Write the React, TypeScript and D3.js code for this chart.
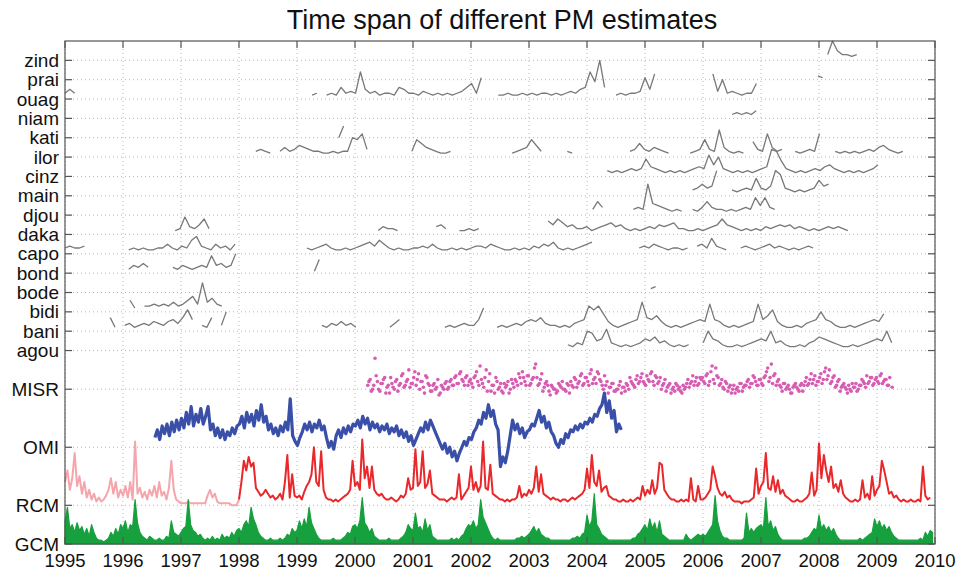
import * as d3 from 'd3'

// layout
const W = 956
const H = 573

// tick rows (y units) and their labels
const ROW_LABELS = ['GCM', 'RCM', 'OMI', 'MISR', 'agou', 'bani', 'bidi', 'bode', 'bond', 'capo', 'daka', 'djou', 'main', 'cinz', 'ilor', 'kati', 'niam', 'ouag', 'prai', 'zind']
const ROW_LEVELS = [0, 2, 5, 8, 10, 11, 12, 13, 14, 15, 16, 17, 18, 19, 20, 21, 22, 23, 24, 25]
const YEAR_TICKS = [1995, 1996, 1997, 1998, 1999, 2000, 2001, 2002, 2003, 2004, 2005, 2006, 2007, 2008, 2009, 2010]

// all series values are in tenths of a row unit, above the row's level
// model / satellite series: 24 samples per year
const RCM_START = 1995
const RCM_PINK_END = 72 // index where the red part begins (1998)
const rcm = [
  12, 18, 8, 14, 27, 10, 15, 6, 12, 4, 8, 3, 6, 2, 4, 2, 3, 5, 8, 14, 6, 12, 4, 8,
  5, 10, 4, 12, 3, 33, 6, 9, 4, 7, 3, 8, 5, 10, 4, 12, 5, 7, 3, 9, 23, 8, 3, 2,
  1, 1, 1, 2, 1, 1, 1, 1, 1, 1, 1, 5, 8, 4, 6, 2, 1, 1, 1, 1, 1, 0, 0, 0,
  3, 12, 23, 18, 25, 20, 22, 9, 7, 5, 6, 8, 6, 4, 5, 3, 4, 6, 3, 12, 26, 4, 16, 5,
  4, 5, 3, 7, 10, 12, 16, 30, 12, 10, 28, 8, 4, 3, 3, 2, 3, 2, 3, 4, 5, 6, 8, 23,
  10, 12, 8, 34, 14, 20, 9, 20, 8, 6, 5, 6, 4, 3, 3, 4, 3, 2, 3, 5, 4, 6, 14, 8,
  9, 29, 10, 12, 28, 9, 11, 18, 6, 5, 4, 3, 3, 3, 2, 3, 4, 3, 4, 16, 3, 5, 7, 9,
  20, 8, 12, 7, 10, 33, 9, 8, 21, 6, 5, 4, 3, 3, 2, 3, 2, 3, 3, 4, 10, 4, 6, 5,
  8, 6, 9, 20, 7, 16, 6, 5, 4, 3, 4, 3, 3, 2, 3, 3, 2, 3, 4, 3, 4, 5, 6, 8,
  19, 9, 26, 12, 10, 18, 7, 9, 10, 5, 4, 3, 3, 2, 2, 3, 2, 2, 3, 2, 3, 4, 3, 10,
  5, 8, 6, 13, 6, 9, 22, 21, 8, 6, 4, 3, 3, 2, 2, 3, 2, 3, 2, 14, 3, 2, 10, 3,
  3, 4, 6, 8, 20, 15, 9, 6, 5, 7, 4, 5, 3, 2, 2, 2, 1, 2, 2, 2, 3, 4, 19, 6,
  10, 12, 27, 9, 8, 15, 7, 13, 6, 8, 5, 4, 3, 2, 2, 3, 2, 2, 3, 4, 6, 17, 5, 8,
  32, 14, 26, 18, 12, 20, 9, 11, 7, 13, 6, 4, 3, 2, 2, 3, 2, 3, 13, 4, 6, 3, 15, 5,
  8, 10, 23, 18, 12, 6, 7, 4, 5, 3, 2, 3, 2, 2, 3, 2, 2, 3, 2, 20, 5, 3, 4,
]

const GCM_START = 1995
const gcm = [
  12, 19, 8, 10, 6, 11, 7, 9, 5, 8, 4, 10, 6, 3, 2, 2, 1, 2, 3, 6, 4, 8, 5, 10,
  8, 12, 6, 10, 9, 23, 11, 6, 4, 3, 2, 4, 3, 2, 2, 3, 2, 2, 4, 3, 12, 6, 5, 4,
  6, 8, 9, 23, 10, 7, 6, 4, 5, 3, 2, 3, 2, 4, 2, 3, 2, 5, 3, 4, 3, 6, 4, 7,
  8, 6, 10, 12, 9, 19, 13, 10, 6, 4, 3, 2, 2, 3, 2, 2, 2, 3, 2, 3, 5, 4, 8, 6,
  7, 12, 8, 13, 9, 19, 11, 8, 5, 3, 2, 2, 2, 2, 2, 3, 2, 2, 2, 3, 4, 6, 5, 9,
  10, 8, 12, 24, 11, 9, 6, 8, 4, 3, 2, 2, 2, 2, 3, 2, 2, 2, 2, 3, 4, 6, 10, 8,
  7, 16, 8, 9, 6, 13, 7, 10, 4, 3, 2, 2, 2, 2, 2, 2, 3, 2, 3, 2, 4, 5, 8, 10,
  9, 12, 8, 10, 23, 14, 11, 8, 5, 3, 2, 3, 2, 2, 2, 2, 2, 2, 2, 3, 3, 4, 3, 4,
  5, 7, 9, 6, 8, 5, 4, 3, 3, 2, 2, 2, 2, 2, 2, 2, 2, 2, 3, 3, 4, 3, 5, 6,
  15, 9, 12, 26, 10, 8, 5, 4, 3, 2, 2, 2, 2, 2, 2, 2, 2, 2, 2, 3, 3, 5, 6, 8,
  10, 7, 13, 8, 11, 6, 12, 5, 4, 3, 2, 2, 2, 2, 2, 2, 2, 5, 3, 2, 3, 4, 5, 4,
  5, 4, 6, 8, 10, 25, 12, 7, 4, 3, 3, 2, 2, 2, 2, 2, 2, 3, 16, 6, 8, 6, 8, 9,
  10, 8, 24, 9, 12, 7, 9, 5, 3, 2, 2, 2, 2, 2, 2, 2, 2, 2, 3, 3, 4, 6, 8, 7,
  15, 8, 10, 7, 9, 6, 8, 5, 3, 2, 2, 2, 2, 2, 2, 2, 2, 3, 2, 3, 4, 5, 6, 13,
  9, 12, 8, 10, 7, 9, 6, 4, 3, 2, 2, 2, 2, 2, 2, 2, 2, 2, 3, 2, 6, 4, 7, 6,
]

const OMI_START = 1996.55
const omi = [
  5, 9, 4, 11, 7, 12, 6, 13, 8, 14, 9,
  15, 10, 18, 12, 21, 11, 17, 13, 20, 12, 16, 21,
  9, 12, 6, 10, 5, 9, 4, 8, 6, 10, 7, 11,
  12, 16, 10, 18, 13, 17, 11, 19, 14, 22, 13, 16,
  9, 12, 7, 10, 6, 11, 8, 13, 9, 25, 6, 3,
  1, 5, 8, 12, 9, 13, 8, 12, 10, 14, 9, 11,
  5, 0, 3, -1, 6, 9, 5, 10, 7, 11, 8, 12,
  11, 14, 10, 16, 12, 15, 9, 13, 10, 12, 8, 11,
  9, 12, 7, 10, 8, 11, 6, 9, 5, 8, 3, 6,
  1, 4, 7, 10, 8, 13, 9, 14, 11, 8, 5, 2,
  -1, 2, -3, 0, -5, -2, -7, -3, 0, 3, 1, 5,
  4, 8, 10, 14, 12, 18, 15, 22, 16, 19, 12, 9,
  -10, -5, -8, -2, 6, 14, 9, 12, 7, 10, 5, 8,
  9, 12, 11, 15, 19, 13, 16, 10, 13, 8, 6, 2,
  0, 4, 2, 7, 5, 9, 8, 11, 9, 12, 10, 13,
  12, 15, 13, 17, 16, 20, 22, 28, 18, 24, 15, 19, 8, 12, 9,
]

// MISR retrievals, two interleaved passes at 24 per year
const MISR_START = 2000.22
const misr = [
  2, 5, 0, 16, 4, -1, 3, 6, 1, -2, 3, 0, 5, 2, 7, 1, 4, 10, 3,
  6, 2, 8, 4, 1, 7, 3, -1, 2, 0, 5, -2, 1, 3, 0, 4, 2, 6, 3, 8, 5, 2, 7, 4,
  3, 6, 9, 2, 5, 1, 10, 4, -1, 2, 6, 0, 3, -2, 1, 4, 0, 3, 5, 2, 6, 9, 4, 7,
  2, 5, 11, 6, 3, 8, 1, 4, -1, 2, 0, -2, 3, 1, 0, -1, 2, 4, 1, 5, 3, 7, 2, 6,
  4, 8, 3, 6, 9, 5, 2, 7, 4, 1, 3, -1, 0, 2, -2, 1, 3, 0, 4, 2, 5, 3, 6, 4,
  2, 5, 8, 4, 7, 3, 6, 2, 5, 1, 3, 0, -1, 2, 1, -2, 0, 3, 1, 4, 2, 6, 3, 5,
  4, 7, 2, 9, 5, 11, 6, 3, 1, 4, -1, 2, 0, -2, 1, 3, -1, 2, 4, 1, 3, 6, 2, 5,
  3, 6, 9, 4, 13, 7, 2, 5, 1, 3, 0, 2, -2, 1, 3, 0, 2, -1, 4, 2, 5, 3, 7, 4,
  6, 3, 9, 5, 10, 4, 7, 2, 5, 1, 3, 0, 2, -1, 1, 3, 0, 2, 4, 1, 3, 6, 2, 5,
  4, 7, 3, 5, 2, 6, 1,
]
const MISR2_START = 2000.24
const misr2 = [
  4, -1, 2, 7, 0, 3, 5, -2, 2, 6, 1, 4, -1, 3, 8, 2, 5, 1,
  3, 9, 5, 0, 4, -2, 6, 2, -1, 3, 1, -3, 2, 0, 4, 1, 5, 2, 7, 3, 9, 4, 6, 2,
  5, 1, 7, 4, 12, 3, 6, -1, 8, 2, -2, 4, 1, -1, 3, 2, -2, 5, 1, 4, 8, 3, 6, 2,
  7, 3, 6, 13, 2, 5, -1, 3, 2, -3, 1, 0, -1, 2, 4, 0, 3, -2, 2, 6, 1, 4, 8, 3,
  6, 2, 10, 5, 3, 8, 4, 0, 2, -2, 1, 3, -1, 0, 4, 1, -1, 2, 6, 3, 1, 7, 4, 8,
  3, 7, 4, 9, 2, 6, 4, 0, 3, -1, 2, -2, 1, 3, 0, -1, 2, 1, 5, 3, 7, 4, 2, 6,
  6, 3, 8, 4, 12, 3, 7, 2, 5, 0, 3, 1, -2, 2, 0, -1, 3, 1, 2, 5, 3, 7, 4, 2,
  5, 2, 7, 11, 6, 3, 8, 4, 2, -1, 3, 1, 0, -2, 2, 1, -1, 3, 2, 6, 3, 8, 5, 2,
  4, 8, 5, 11, 7, 3, 6, 1, 4, -1, 2, 1, -2, 0, 3, 1, -1, 2, 5, 3, 7, 4, 6, 3,
  6, 3, 8, 4, 5, 2,
]

// ground stations: 12 samples per year, [segment start, values]
type Seg = [number, (number | null)[]]
const agou: Seg[] = [
  [2003.67, [3, 2, 4, 3, 10, 9, 5, 6, 11, 4, 3, 2, 3, 2, 3, 4, 6, 5, 7, 4, 5, 3, 2, 3, 2, 3, null, null,
    4, 10, 6, 5, 3, 2, 2, 3, 2, 3, 4, 5, 6, 5, 10, 4, 5, 3, 2, 2, 3, 2, 4, 5, 7, 6, 5, 4, 3, 2, 2, 3, 2, 3, 4, 5, 6, 5, 10, 4]],
]
const bani: Seg[] = [
  [1995.78, [7, 2, null, 3, 4, 2, 3, 4, 3, 5, 4, 3, 5, 6, 4, 7, 11, 6, null, 3, 2, 7, null, 3, 10]],
  [1999.43, [3, 2, 4, 3, 5, 3, 4, 2]],
  [2000.6, [2, 4, 6]],
  [2001.55, [2, 3, 2, 3, 4, 3, 3, 6, 12]],
  [2002.45, [2, 3, 2, 3, 4, 3, 5, 6, 5, 7, 4, 3, 3, 2, 3, 2, 4, 5, 6, 13, 11, 13, 9, 5,
    3, 2, 3, 4, 5, 6, 15, 7, 6, 8, 5, 3, 2, 3, 2, 3, 4, 5, 6, 5, 14, 6, 5, 3,
    2, 3, 2, 3, 4, 5, 14, 6, 8, 11, 5, 3, 2, 2, 3, 2, 4, 5, 6, 10, 6, 5, 3, 2, 2, 3, 2, 3, 4, 5, 6, 5, 9]],
]
const bidi: Seg[] = [
  [1996.12, [6, 2, null, 3, 3, 4, 3, 4, 3, 5, 3, 4, 6, 8, 4, 15, 5, 7, 4, 3]],
]
const bode: Seg[] = [[2005.1, [2, 3]]]
const bond: Seg[] = [
  [1996.1, [2, 4, 3, 5, 3]],
  [1996.86, [3, 2, 4, 3, 2, 3, 4, 3, 9, 4, 5, 3, 4, 10]],
  [1999.3, [1, 7]],
]
const capo: Seg[] = [
  [1995.0, [3, 4, 3, 3, 4]],
  [1996.1, [2, 3, 2, 3, 2, 2, 3, 3, 5, 3, 2, 4, 3, 7, 9, 4, 3, 2, 5, 3, 4, 2, 5]],
  [1999.17, [3, 2, 3, 4, 5, 3, 2, 2, 3, 2, 3, 4, 5, 6, 4, 7, 5, 3, 2, 3, 2, 2, 3, 3,
    4, 3, 5, 3, 2, 2, 3, 2, 3, 2, 3, 4, 4, 3, 5, 4, 3, 2, 2, 3, 2, 3, 2, 4, 3, 5, 4, 6, 3, 2, 3, 2, 3, 4, 5, 6]],
  [2004.9, [3, 4, 3, 5, 4, 3, 2, 3, 3, 2, 3, null, 4, 5, 3, 8, 4, 3, 2, null, null, 3, 4, 3,
    2, 3, 4, 5, 3, 4, 3, 2, 3, 2, 3, 4, 3]],
]
const daka: Seg[] = [
  [1996.9, [2, 3, 9, 4, 3, 5, 8, 3]],
  [2000.4, [2, 4, 3, 3, 2]],
  [2001.4, [4, 5, 3]],
  [2001.8, [2, 2, 3, 2, 3]],
  [2003.33, [7, 5, 8, 6, 4, 5, 3, 3, 4, 2, 3, 4, 5, 6, 4, 5, 3, 2, 3, 2, 3, 4, 3, 5,
    4, 5, 6, 3, 3, 2, 2, 3, 2, 3, 4, 5, 8, 5, 4, 3, 2, 3, 2, 3, 2, 4, 3, 4,
    5, 4, 5, 3, 4, 3, 2, 3, 2, 3, 4, 3, 4, 3, 2]],
]
const djou: Seg[] = [
  [2004.1, [3, 7, 4]],
  [2004.8, [3, 4, 3, 16, 6, 5, 4, 3, 2, 3, 2]],
  [2005.82, [3, 2, 4, 7, 4, 3, 3, 2, 3, 2, 3, 4, 3, 9, 5, 9, 4, 3]],
]
const main: Seg[] = [
  [2005.82, [3, 4, 6, 4, 5, 13]],
  [2006.5, [3, 2, 3, 4, 3, 9, 4, 3, 5, 13, 11, 4, 3, 2, 3, 2, 3, 4, 8, 5, 6]],
]
const cinz: Seg[] = [
  [2004.35, [3, 2, 3, 2, 3, 4, 3, 4, 9, 5, 4, 3, 2, 3, 2, 3, 2, 3, 4, 5, 4, 11, 6, 10,
    4, 3, 2, 3, 2, 3, 2, 3, 4, 5, 14, 13, 8, 4, 3, 2, 3, 2, 3, 4, 3, 5, 6, 4,
    3, 2, 3, 2, 3, 2, 3, 4, 6]],
]
const ilor: Seg[] = [
  [1998.29, [3, 4, 3, 2, null, 3, 5, 3, 4, 6, 5, 4, 3, 3, 2, 2, 3, 2, 3, 3, 10, 9, 12, 4]],
  [2000.98, [3, 9, 7, 5, 4, 3, 2, 2, 3]],
  [2002.71, [2, 3, 4, 5, 9, 6, 3]],
  [2003.66, [3, 2]],
  [2004.74, [3, 4, 7, 4, 3, 5, 4, 3, 2]],
  [2005.78, [2, 3, 4, 9, 4, 3, 14, 5, 3, 2, 3, 2]],
  [2006.86, [8, 4, 3, 12, 5, 3, 4]],
  [2007.59, [3, 2, 3, 4, 3, 12]],
  [2008.28, [3, 2, 3, 2, 3, 2, 3, 4, 3, 5, 6, 4, 3, 2, 3]],
]
const kati: Seg[] = [[1999.72, [0, 6]]]
const niam: Seg[] = [[2006.5, [2, 3, 2, 3, 2, 4]]]
const ouag: Seg[] = [
  [1995.0, [3, 5, 3]],
  [1999.26, [2, 3, null, 2, 3, 2, 6, 3, 4, 3, 14, 5, 3, 4, 2, 3, 3, 2, 6, 5, 3, 3, 2, 4, 3, 2, 3, 2, 3, 2, 3, 4, 6, 8, 3, 11]],
  [2002.47, [2, 2, 3, 2, 2, 3, 2, 3, 2, 3, 3, 2, 3, 2, 3, 4, 3, 5, 6, 14, 9, 20, 6]],
  [2004.5, [2, 3, 2, 3, 3, 4, 11, 5, 13]],
  [2006.17, [13, 4, 10, 3, 4, 3, 2, 3, 3, 8]],
]
const prai: Seg[] = [[2007.98, [2, 1]]]
const zind: Seg[] = [[2008.15, [3, 10, 5, 3, 3, 2, 3]]]

const STATIONS: [string, Seg[]][] = [
  ['agou', agou], ['bani', bani], ['bidi', bidi], ['bode', bode], ['bond', bond], ['capo', capo],
  ['daka', daka], ['djou', djou], ['main', main], ['cinz', cinz], ['ilor', ilor], ['kati', kati],
  ['niam', niam], ['ouag', ouag], ['prai', prai], ['zind', zind],
]

const COLORS = {
  station: '#787878',
  misr: '#d65db1',
  omi: '#3a4fa8',
  rcm: '#e8282b',
  rcmEarly: '#f5a5ab',
  gcm: '#17a03e',
  grid: '#b8b8b8',
  axis: '#555',
}

const FONT = '"Liberation Sans", Arial, Helvetica, sans-serif'

export default function App() {
  const x = d3.scaleLinear().domain([1995, 2010]).range([65, 935])
  const y = d3.scaleLinear().domain([0, 26]).range([544, 41])
  const level = (lab: string) => ROW_LEVELS[ROW_LABELS.indexOf(lab)]

  const series = (start: number, perYear: number, base: number) =>
    d3.line<number | null>()
      .defined(v => v != null)
      .x((_, i) => x(start + i / perYear))
      .y(v => y(base + (v as number) / 10))

  const rcmPink = series(RCM_START, 24, level('RCM'))(rcm.slice(0, RCM_PINK_END + 1))
  // red part: keep indices aligned with time by using an offset start
  const rcmRed = series(RCM_START + RCM_PINK_END / 24, 24, level('RCM'))(rcm.slice(RCM_PINK_END))

  const gcmArea = d3.area<number>()
    .x((_, i) => x(GCM_START + i / 24))
    .y0(y(level('GCM')))
    .y1(v => y(level('GCM') + v / 10))(gcm)

  const omiPath = series(OMI_START, 24, level('OMI'))(omi)

  const [x0, x1] = x.range()
  const [yb, yt] = y.range()

  const misrDots = [
    ...misr.map((v, i) => [MISR_START + i / 24, v]),
    ...misr2.map((v, i) => [MISR2_START + i / 24, v]),
  ]

  return (
    <svg width={W} height={H} style={{ position: 'absolute', left: 0, top: 0, background: '#fff' }} fontFamily={FONT}>
      <text x={502} y={29} textAnchor="middle" fontSize={27} fill="#111">Time span of different PM estimates</text>

      {/* grid */}
      <g stroke={COLORS.grid} strokeWidth={1} strokeDasharray="1,3">
        {ROW_LEVELS.map(v => <line key={'h' + v} x1={x0} x2={x1} y1={y(v)} y2={y(v)} />)}
        {YEAR_TICKS.map(t => <line key={'v' + t} x1={x(t)} x2={x(t)} y1={yt} y2={yb} />)}
      </g>

      {/* stations */}
      <g fill="none" stroke={COLORS.station} strokeWidth={1.3} strokeLinejoin="round">
        {STATIONS.map(([name, segs]) =>
          segs.map((s, k) => (
            <path key={name + k} d={series(s[0], 12, level(name))(s[1]) || ''} />
          ))
        )}
      </g>

      {/* MISR */}
      <g fill={COLORS.misr}>
        {misrDots.map(([t, v], i) => (
          <circle key={i} cx={x(t)} cy={y(level('MISR') + v / 10)} r={1.8} />
        ))}
      </g>

      {/* OMI */}
      <path d={omiPath || ''} fill="none" stroke={COLORS.omi} strokeWidth={3.2} strokeLinejoin="round" />

      {/* RCM */}
      <path d={rcmPink || ''} fill="none" stroke={COLORS.rcmEarly} strokeWidth={2} strokeLinejoin="round" />
      <path d={rcmRed || ''} fill="none" stroke={COLORS.rcm} strokeWidth={2} strokeLinejoin="round" />

      {/* GCM */}
      <path d={gcmArea || ''} fill={COLORS.gcm} stroke={COLORS.gcm} strokeWidth={1.2} strokeLinejoin="round" />

      {/* frame */}
      <rect x={x0} y={yt} width={x1 - x0} height={yb - yt} fill="none" stroke={COLORS.axis} strokeWidth={1.2} />
      <g stroke={COLORS.axis} strokeWidth={1.2}>
        {ROW_LEVELS.map(v => (
          <g key={'t' + v}>
            <line x1={x0} x2={x0 + 7} y1={y(v)} y2={y(v)} />
            <line x1={x1} x2={x1 - 7} y1={y(v)} y2={y(v)} />
          </g>
        ))}
        {YEAR_TICKS.map(t => (
          <g key={'yt' + t}>
            <line x1={x(t)} x2={x(t)} y1={yt} y2={yt + 7} />
            <line x1={x(t)} x2={x(t)} y1={yb} y2={yb - 7} />
          </g>
        ))}
      </g>

      {/* labels */}
      <g fontSize={19} fill="#111" textAnchor="end">
        {ROW_LABELS.map((lab, i) => (
          <text key={lab} x={59} y={y(ROW_LEVELS[i])} dy="0.35em">{lab}</text>
        ))}
      </g>
      <g fontSize={18.5} fill="#111" textAnchor="middle">
        {YEAR_TICKS.map(t => (
          <text key={t} x={x(t)} y={567}>{t}</text>
        ))}
      </g>
    </svg>
  )
}
